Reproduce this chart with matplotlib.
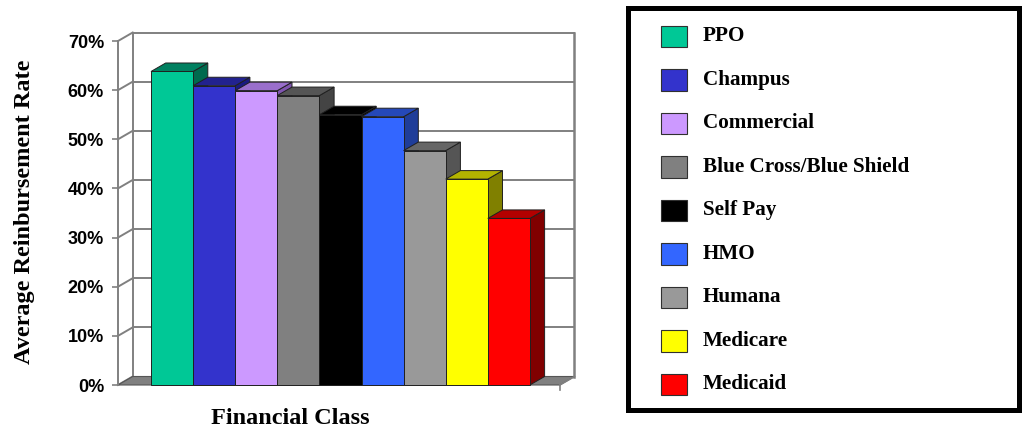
import matplotlib
matplotlib.use('Agg')
import matplotlib.pyplot as plt
from matplotlib.patches import Polygon, Rectangle

# data
categories = ['PPO', 'Champus', 'Commercial', 'Blue Cross/Blue Shield', 'Self Pay',
              'HMO', 'Humana', 'Medicare', 'Medicaid']
rates = [63.8, 60.9, 59.9, 58.9, 55.0, 54.6, 47.7, 41.9, 33.9]
yticks = [0, 10, 20, 30, 40, 50, 60, 70]
ytick_labels = ['0%', '10%', '20%', '30%', '40%', '50%', '60%', '70%']

# colours: front face, top face, side face
front_cols = ['#00C896', '#3333CC', '#CC99FF', '#808080', '#000000',
              '#3366FF', '#999999', '#FFFF00', '#FF0000']
top_cols = ['#008060', '#22228F', '#9A6FCC', '#555555', '#000000',
            '#2548B8', '#666666', '#B3B300', '#B30000']
side_cols = ['#006A4E', '#1A1A80', '#8055B0', '#444444', '#000000',
             '#1F3D99', '#555555', '#808000', '#800000']

W, H = 1026, 429
fig = plt.figure(figsize=(W / 100, H / 100), dpi=100)

# main axes, placed in pixels so the 3d offsets come out right
px_x = 42.1      # pixels per bar
px_y = 4.914     # pixels per percent
x0_px, y0_px = 118, 429 - 385   # front axis at x=-0.784, 0%
ax_l, ax_r, ax_b, ax_t = 60, 600, 20, 415
ax = fig.add_axes([ax_l / W, ax_b / H, (ax_r - ax_l) / W, (ax_t - ax_b) / H])
xleft = -0.784
ax.set_xlim(xleft - (x0_px - ax_l) / px_x, xleft + (ax_r - x0_px) / px_x)
ax.set_ylim(-(y0_px - ax_b) / px_y, (ax_t - y0_px) / px_y)

dx = 14.7 / px_x
dy = 8.5 / px_y
xright = 9.71
grid_c = '#808080'

# floor
ax.add_patch(Polygon([(xleft, 0), (xright, 0), (xright + dx, dy), (xleft + dx, dy)],
                     closed=True, facecolor='#808080', edgecolor='#555555', lw=0.8, zorder=1))
# back wall grid + left wall connectors
for v in yticks:
    ax.plot([xleft + dx, xright + dx], [v + dy, v + dy], color=grid_c, lw=1.4, zorder=0.5)
    ax.plot([xleft, xleft + dx], [v, v + dy], color=grid_c, lw=1.4, zorder=0.5)
ax.plot([xleft + dx, xleft + dx], [dy, 70 + dy], color=grid_c, lw=1.4, zorder=0.5)
ax.plot([xright + dx, xright + dx], [dy, 70 + dy], color=grid_c, lw=1.8, zorder=0.5)
ax.plot([xright, xright + dx], [0, dy], color=grid_c, lw=1.2, zorder=1.2)
ax.plot([xright, xright], [0, -1.0], color=grid_c, lw=1.2, zorder=1.2)

# bars: side, top, front in order left to right
for i, v in enumerate(rates):
    z = 2 + i * 0.1
    ax.add_patch(Polygon([(i + 1, 0), (i + 1 + dx, dy), (i + 1 + dx, v + dy), (i + 1, v)],
                         closed=True, facecolor=side_cols[i], edgecolor='#202020', lw=0.7, zorder=z))
    ax.add_patch(Polygon([(i, v), (i + 1, v), (i + 1 + dx, v + dy), (i + dx, v + dy)],
                         closed=True, facecolor=top_cols[i], edgecolor='#202020', lw=0.7, zorder=z + 0.01))
    ax.bar(i, v, width=1.0, align='edge', color=front_cols[i], edgecolor='#202020',
           linewidth=0.7, zorder=z + 0.02)

# front value axis
for s in ['top', 'right', 'bottom']:
    ax.spines[s].set_visible(False)
ax.spines['left'].set_position(('data', xleft))
ax.spines['left'].set_bounds(0, 70)
ax.spines['left'].set_color(grid_c)
ax.spines['left'].set_linewidth(1.4)
ax.set_xticks([])
ax.set_yticks(yticks)
ax.set_yticklabels(ytick_labels, fontfamily='Liberation Sans', fontweight='bold', fontsize=13)
ax.tick_params(axis='y', length=4, width=1.2, color=grid_c, pad=6)
ax.patch.set_alpha(0)

fig.text(25 / W, 217.5 / H, 'Average Reinbursement Rate', rotation=90, ha='center', va='center',
         fontfamily='Liberation Serif', fontweight='bold', fontsize=17.5)
fig.text(290 / W, 5 / H, 'Financial Class', ha='center', va='baseline',
         fontfamily='Liberation Serif', fontweight='bold', fontsize=17.5)

# legend box drawn by hand
lx0, lx1, ly0, ly1 = 627.5, 1019, 7.5, 409.5
lax = fig.add_axes([lx0 / W, (H - ly1) / H, (lx1 - lx0) / W, (ly1 - ly0) / H])
lax.set_xlim(lx0, lx1)
lax.set_ylim(ly1, ly0)
lax.set_xticks([])
lax.set_yticks([])
for s in lax.spines.values():
    s.set_linewidth(3.6)
    s.set_color('black')
row0, row_step = 36.5, 43.5
for i, name in enumerate(categories):
    cy = row0 + i * row_step
    lax.add_patch(Rectangle((660.7, cy - 10.75), 26, 21.5, facecolor=front_cols[i],
                            edgecolor='#303030', lw=0.8))
    lax.text(703, cy + 4.5, name, ha='left', va='baseline', fontfamily='Liberation Serif',
             fontweight='bold', fontsize=15.2)

fig.savefig('out.png', dpi=100)
